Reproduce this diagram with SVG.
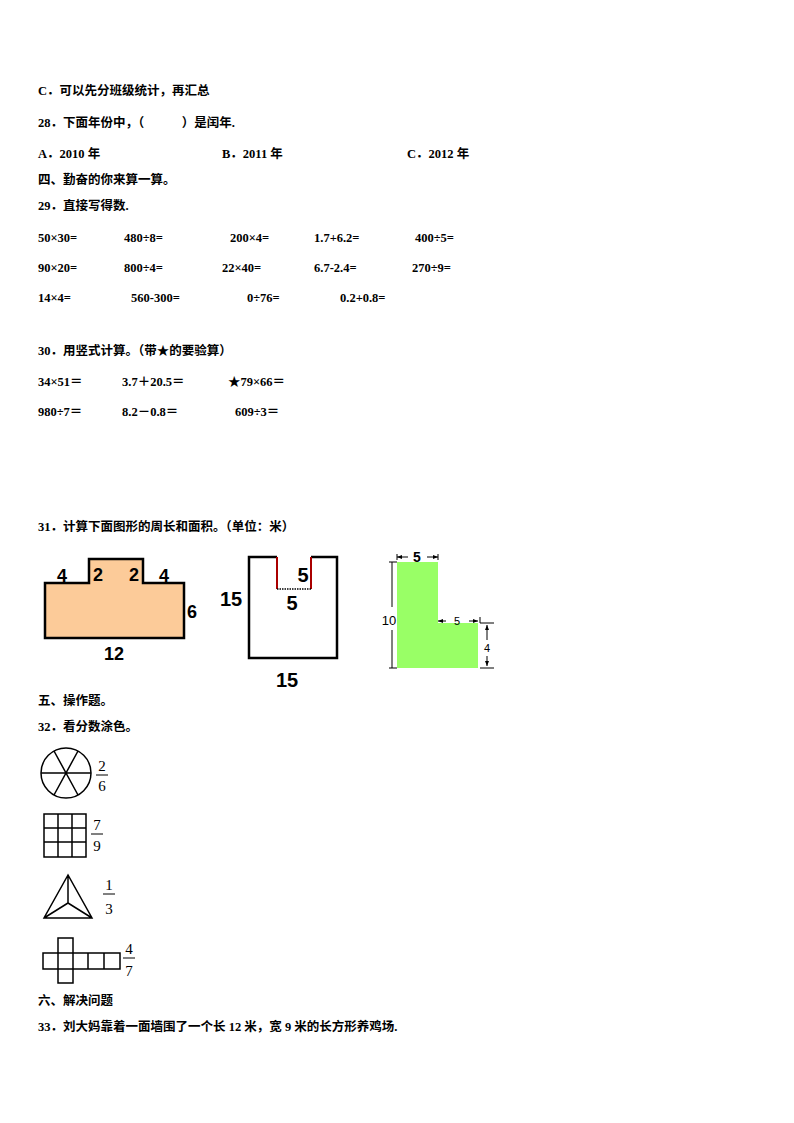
<svg xmlns="http://www.w3.org/2000/svg" width="794" height="1123" viewBox="0 0 794 1123">
<style>
.t{font-family:"Liberation Serif","Noto Sans CJK SC",serif;font-size:12.5px;font-weight:bold;fill:#000}
.n{font-family:"Liberation Sans",Arial,sans-serif;font-weight:bold;font-size:18px;fill:#000;text-anchor:middle}
.f{font-family:"Liberation Serif",serif;font-size:15px;fill:#000;text-anchor:middle}
.s{fill:none;stroke:#000;stroke-width:1.5}
</style>
<rect width="794" height="1123" fill="#fff"/>
<g id="text">
<text class="t" x="38" y="95">C．可以先分班级统计，再汇总</text>
<text class="t" x="38" y="127">28．下面年份中，（　　　）是闰年.</text>
<text class="t" x="38" y="158">A．2010 年</text>
<text class="t" x="222" y="158">B．2011 年</text>
<text class="t" x="407" y="158">C．2012 年</text>
<text class="t" x="38" y="184">四、勤奋的你来算一算。</text>
<text class="t" x="38" y="210">29．直接写得数.</text>
<text class="t" x="38" y="242">50×30=</text><text class="t" x="124" y="242">480÷8=</text><text class="t" x="230" y="242">200×4=</text><text class="t" x="314" y="242">1.7+6.2=</text><text class="t" x="415" y="242">400÷5=</text>
<text class="t" x="38" y="272">90×20=</text><text class="t" x="124" y="272">800÷4=</text><text class="t" x="222" y="272">22×40=</text><text class="t" x="314" y="272">6.7-2.4=</text><text class="t" x="412" y="272">270÷9=</text>
<text class="t" x="38" y="302">14×4=</text><text class="t" x="131" y="302">560-300=</text><text class="t" x="247" y="302">0÷76=</text><text class="t" x="340" y="302">0.2+0.8=</text>
<text class="t" x="38" y="355">30．用竖式计算。（带★的要验算）</text>
<text class="t" x="38" y="386">34×51＝</text><text class="t" x="122" y="386">3.7＋20.5＝</text><text class="t" x="228" y="386">★79×66＝</text>
<text class="t" x="38" y="416">980÷7＝</text><text class="t" x="122" y="416">8.2－0.8＝</text><text class="t" x="235" y="416">609÷3＝</text>
<text class="t" x="38" y="531">31．计算下面图形的周长和面积。（单位：米）</text>
<text class="t" x="38" y="705">五、操作题。</text>
<text class="t" x="38" y="731">32．看分数涂色。</text>
<text class="t" x="38" y="1005">六、解决问题</text>
<text class="t" x="38" y="1031">33．刘大妈靠着一面墙围了一个长 12 米，宽 9 米的长方形养鸡场.</text>
</g>
<g id="fig1">
<path d="M45,583H89V559H143V583H184V638H45Z" fill="#fccb99" stroke="#000" stroke-width="2.5"/>
<text class="n" x="62" y="582">4</text><text class="n" x="98" y="581">2</text><text class="n" x="134" y="581">2</text><text class="n" x="164" y="582">4</text>
<text class="n" x="192" y="618">6</text><text class="n" x="114" y="660">12</text>
</g>
<g id="fig2">
<path d="M277,557H249V658H337V557H311" fill="none" stroke="#000" stroke-width="2.5"/>
<path d="M277,557V589M311,557V589" stroke="#a00" stroke-width="2"/>
<path d="M277,589H311" stroke="#000" stroke-width="1.5" stroke-dasharray="1.5,1"/>
<text class="n" x="231" y="606" style="font-size:20px">15</text><text class="n" x="303" y="582" style="font-size:20px">5</text>
<text class="n" x="292" y="610" style="font-size:20px">5</text><text class="n" x="287" y="687" style="font-size:20px">15</text>
</g>
<g id="fig3">
<path d="M397,562H438V623H478V668H397Z" fill="#99ff66"/>
<g stroke="#000" stroke-width="1" fill="none">
<path d="M397,554V560M438,554V560M397,557H408M427,557H438"/>
<path d="M389,562H397M389,668H397M392,562V607M392,630V668"/>
<path d="M480,617V623H494M438,621H446M469,621H478M480,668H494M487,625V640M487,656V666"/>
</g>
<path d="M397,557l5,-2v4zM438,557l-5,-2v4zM438,621l5,-2v4zM478,621l-5,-2v4zM487,625l-2,5h4zM487,666l-2,-5h4z" fill="#000"/>
<text class="n" x="417" y="562" style="font-size:14px">5</text>
<text class="n" x="389" y="625" style="font-size:13px;font-weight:normal">10</text>
<text class="n" x="457" y="625" style="font-size:11px;font-weight:normal">5</text>
<text class="n" x="487" y="652" style="font-size:11px;font-weight:normal">4</text>
</g>
<g id="fractions">
<circle cx="66" cy="773" r="25" class="s"/>
<path d="M41,773H91M54,751L78,795M78,751L54,795" class="s"/>
<text class="f" x="102" y="771">2</text><path d="M96,775H108" stroke="#000"/><text class="f" x="102" y="791">6</text>
<path d="M44,814H86V857H44ZM58,814V857M72,814V857M44,828H86M44,842H86" class="s"/>
<text class="f" x="97" y="830">7</text><path d="M91,834H103" stroke="#000"/><text class="f" x="97" y="851">9</text>
<path d="M68,875L44,918H92ZM68,875V903M44,918L68,903L92,918" class="s"/>
<text class="f" x="109" y="890">1</text><path d="M103,894H115" stroke="#000"/><text class="f" x="109" y="914">3</text>
<path d="M43,953H120V969H43ZM58,938H73V983H58ZM88,953V969M104,953V969" class="s"/>
<text class="f" x="129" y="954">4</text><path d="M123,958H135" stroke="#000"/><text class="f" x="129" y="976">7</text>
</g>
</svg>
